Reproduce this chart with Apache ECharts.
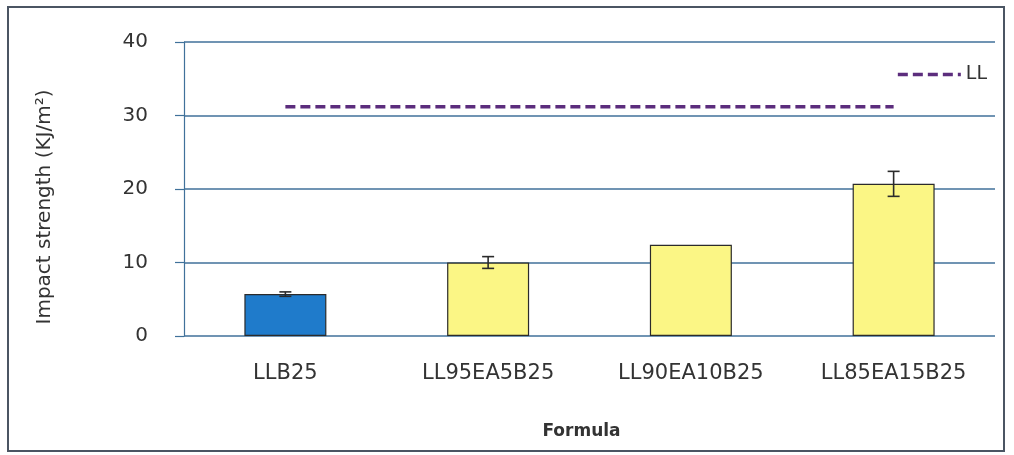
<!DOCTYPE html>
<html>
<head>
<meta charset="utf-8">
<script src="https://cdn.jsdelivr.net/npm/echarts@6/dist/echarts.min.js"></script>
<style>
  html, body { margin: 0; padding: 0; background: #ffffff; }
  #chart { width: 1014px; height: 455px; }
</style>
</head>
<body>
<div id="chart"></div>
<script>
// Impact strength of each formula, with standard deviation and the LL reference level
const categories = ['LLB25', 'LL95EA5B25', 'LL90EA10B25', 'LL85EA15B25'];
const impactValues = [5.7, 10.0, 12.4, 20.7];
const impactErrors = [0.3, 0.8, 0, 1.7];
const llValues = [31.2, 31.2, 31.2, 31.2];
const yTicks = [0, 10, 20, 30, 40];

const barColors = ['#1f7bcb', '#fbf685', '#fbf685', '#fbf685'];
const gridColor = '#40719a';
const textColor = '#333333';
const llColor = '#5c2d7d';
const fontFamily = '"DejaVu Sans", "Noto Sans", sans-serif';

const chart = echarts.init(document.getElementById('chart'));

chart.setOption({
  animation: false,
  backgroundColor: '#ffffff',
  grid: { left: 184, right: 19, top: 42, bottom: 119 },
  legend: {
    right: 22,
    top: 60,
    itemWidth: 63,
    itemHeight: 12,
    data: ['LL'],
    itemStyle: { opacity: 0 },
    lineStyle: { width: 3.5, type: [10, 5], color: llColor },
    textStyle: { color: textColor, fontSize: 19, fontFamily }
  },
  xAxis: {
    type: 'category',
    data: categories,
    name: 'Formula',
    nameLocation: 'middle',
    nameGap: 87,
    nameTextStyle: { color: textColor, fontSize: 17, fontWeight: 'bold', fontFamily, padding: [0, 16, 0, 0] },
    axisLine: { show: false },
    axisTick: { show: false },
    axisLabel: { color: textColor, fontSize: 21, margin: 27, fontFamily }
  },
  yAxis: {
    type: 'value',
    min: yTicks[0],
    max: yTicks[yTicks.length - 1],
    interval: 10,
    axisLine: { show: true, lineStyle: { color: gridColor, width: 1.2 } },
    axisTick: { show: true, length: 9, lineStyle: { color: gridColor, width: 1.2 } },
    axisLabel: { color: textColor, fontSize: 20, margin: 36, fontFamily },
    splitLine: { lineStyle: { color: gridColor, width: 1.6 } }
  },
  series: [
    {
      name: 'Impact strength',
      type: 'bar',
      barWidth: 82,
      data: impactValues.map((v, i) => ({
        value: v,
        itemStyle: { color: barColors[i], borderColor: '#2b2b2b', borderWidth: 1.2 }
      })),
      z: 2
    },
    {
      name: 'Error',
      type: 'custom',
      data: impactValues.map((v, i) => [i, v - impactErrors[i], v + impactErrors[i]]),
      renderItem: function (params, api) {
        const i = api.value(0);
        if (impactErrors[i] <= 0) return null;
        const lo = api.coord([i, api.value(1)]);
        const hi = api.coord([i, api.value(2)]);
        const cap = 6;
        const style = { stroke: '#2b2b2b', lineWidth: 1.6 };
        return {
          type: 'group',
          children: [
            { type: 'line', shape: { x1: lo[0], y1: lo[1], x2: hi[0], y2: hi[1] }, style },
            { type: 'line', shape: { x1: lo[0] - cap, y1: lo[1], x2: lo[0] + cap, y2: lo[1] }, style },
            { type: 'line', shape: { x1: hi[0] - cap, y1: hi[1], x2: hi[0] + cap, y2: hi[1] }, style }
          ]
        };
      },
      z: 3
    },
    {
      name: 'LL',
      type: 'line',
      data: llValues,
      symbol: 'none',
      lineStyle: { color: llColor, width: 3.5, type: [10, 5] },
      itemStyle: { color: llColor },
      z: 4
    }
  ],
  graphic: [
    {
      type: 'rect',
      shape: { x: 8, y: 7, width: 996, height: 444 },
      style: { fill: 'none', stroke: '#4b5563', lineWidth: 2 },
      silent: true
    },
    {
      type: 'text',
      x: 45,
      y: 207,
      rotation: Math.PI / 2,
      style: {
        text: 'Impact strength (KJ/m²)',
        fill: textColor,
        font: '20px ' + fontFamily,
        align: 'center',
        verticalAlign: 'middle'
      },
      silent: true
    }
  ]
});
</script>
</body>
</html>
